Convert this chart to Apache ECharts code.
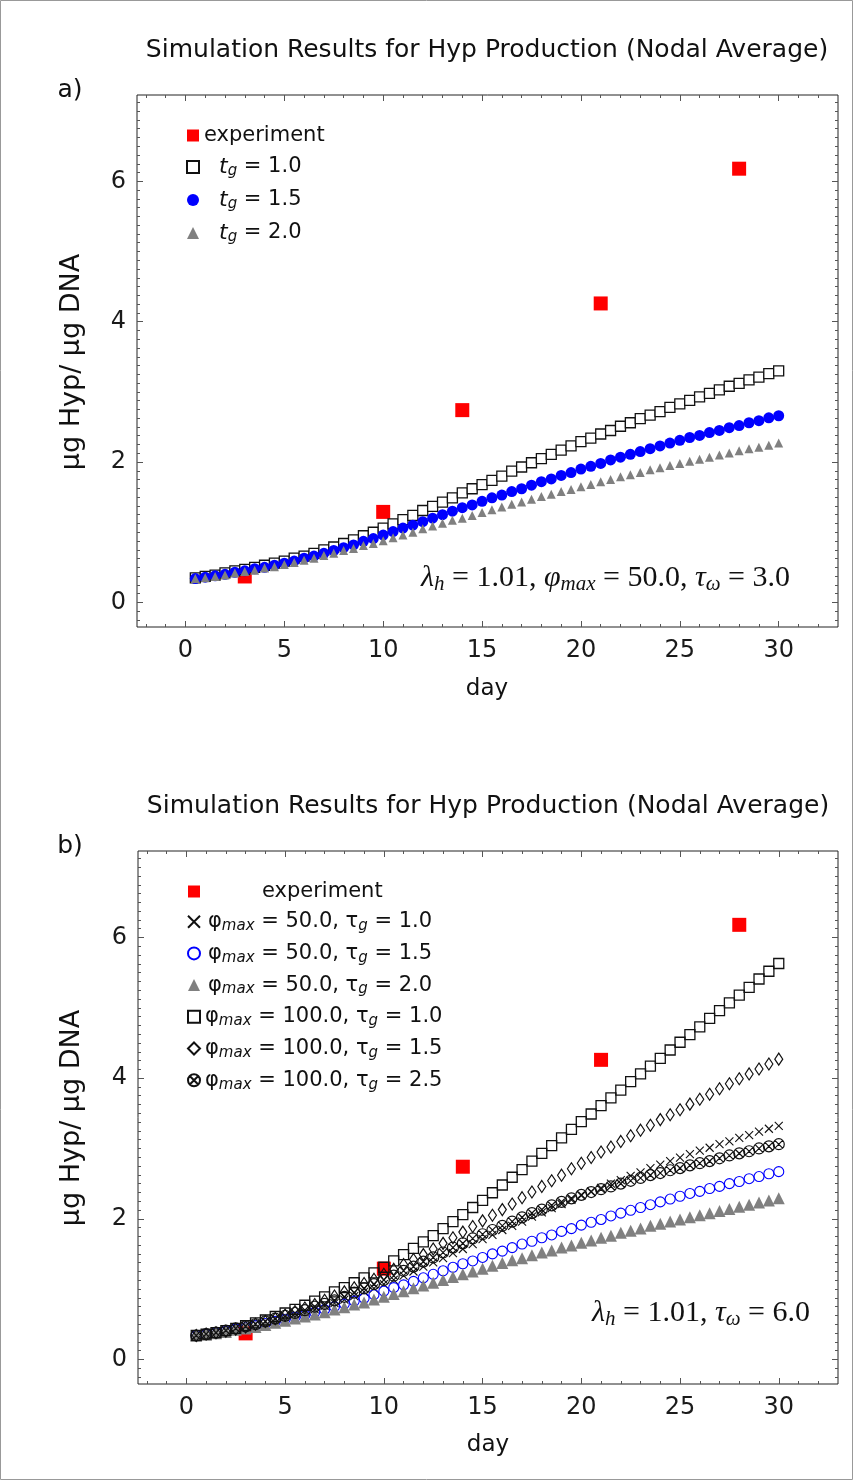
<!DOCTYPE html>
<html>
<head>
<meta charset="utf-8">
<script src="https://cdn.jsdelivr.net/npm/echarts@6/dist/echarts.min.js"></script>
<style>
  * { margin: 0; padding: 0; }
  body { background: #fff; }
  #chart { width: 854px; height: 1481px; }
</style>
</head>
<body>
<div id="chart"></div>
<script>
// ---- data ----
var days = [0.5, 1, 1.5, 2, 2.5, 3, 3.5, 4, 4.5, 5,
            5.5, 6, 6.5, 7, 7.5, 8, 8.5, 9, 9.5, 10,
            10.5, 11, 11.5, 12, 12.5, 13, 13.5, 14, 14.5, 15,
            15.5, 16, 16.5, 17, 17.5, 18, 18.5, 19, 19.5, 20,
            20.5, 21, 21.5, 22, 22.5, 23, 23.5, 24, 24.5, 25,
            25.5, 26, 26.5, 27, 27.5, 28, 28.5, 29, 29.5, 30];

var expDays = [3, 10, 14, 21, 28];
var expValues = [0.37, 1.29, 2.74, 4.26, 6.18];

// a) phi_max = 50, tau_w = 3.0
var tg10 = [0.35, 0.37, 0.39, 0.42, 0.45, 0.47, 0.50, 0.53, 0.56, 0.59,
            0.63, 0.66, 0.70, 0.75, 0.79, 0.84, 0.89, 0.95, 1.00, 1.06,
            1.12, 1.18, 1.24, 1.31, 1.37, 1.43, 1.49, 1.56, 1.62, 1.68,
            1.74, 1.80, 1.87, 1.93, 1.99, 2.05, 2.11, 2.17, 2.23, 2.29,
            2.34, 2.40, 2.45, 2.51, 2.56, 2.62, 2.67, 2.72, 2.78, 2.83,
            2.88, 2.93, 2.98, 3.03, 3.08, 3.12, 3.17, 3.21, 3.26, 3.30];
var tg15 = [0.34, 0.36, 0.38, 0.40, 0.43, 0.45, 0.48, 0.50, 0.53, 0.56,
            0.59, 0.63, 0.66, 0.70, 0.74, 0.78, 0.82, 0.87, 0.91, 0.96,
            1.01, 1.06, 1.10, 1.15, 1.20, 1.25, 1.30, 1.35, 1.39, 1.44,
            1.49, 1.53, 1.58, 1.62, 1.67, 1.72, 1.76, 1.81, 1.85, 1.90,
            1.94, 1.98, 2.03, 2.07, 2.11, 2.15, 2.19, 2.23, 2.27, 2.31,
            2.35, 2.38, 2.42, 2.45, 2.49, 2.52, 2.56, 2.59, 2.63, 2.66];
var tg20 = [0.34, 0.35, 0.37, 0.39, 0.42, 0.44, 0.46, 0.49, 0.51, 0.54,
            0.57, 0.60, 0.63, 0.67, 0.70, 0.74, 0.77, 0.81, 0.84, 0.88,
            0.92, 0.96, 1.00, 1.05, 1.09, 1.13, 1.17, 1.20, 1.24, 1.28,
            1.32, 1.36, 1.40, 1.43, 1.47, 1.51, 1.54, 1.58, 1.61, 1.65,
            1.68, 1.72, 1.75, 1.79, 1.82, 1.85, 1.89, 1.92, 1.95, 1.98,
            2.01, 2.04, 2.07, 2.10, 2.13, 2.16, 2.19, 2.21, 2.24, 2.27];

// b) tau_w = 6.0
var p50t10 = [0.35, 0.37, 0.39, 0.42, 0.45, 0.48, 0.51, 0.54, 0.57, 0.60,
              0.64, 0.67, 0.71, 0.76, 0.80, 0.85, 0.90, 0.96, 1.01, 1.07,
              1.13, 1.19, 1.25, 1.32, 1.38, 1.44, 1.51, 1.57, 1.64, 1.71,
              1.77, 1.84, 1.90, 1.96, 2.03, 2.09, 2.15, 2.21, 2.27, 2.33,
              2.39, 2.44, 2.50, 2.55, 2.61, 2.66, 2.72, 2.77, 2.82, 2.87,
              2.92, 2.97, 3.01, 3.06, 3.10, 3.15, 3.19, 3.24, 3.28, 3.32];
var p50t15 = [0.34, 0.36, 0.38, 0.40, 0.43, 0.45, 0.48, 0.51, 0.54, 0.57,
              0.60, 0.63, 0.67, 0.71, 0.75, 0.79, 0.83, 0.87, 0.92, 0.97,
              1.02, 1.06, 1.11, 1.16, 1.21, 1.26, 1.31, 1.36, 1.40, 1.45,
              1.50, 1.54, 1.59, 1.64, 1.68, 1.73, 1.77, 1.82, 1.86, 1.91,
              1.95, 1.99, 2.04, 2.08, 2.12, 2.16, 2.20, 2.24, 2.28, 2.32,
              2.36, 2.39, 2.43, 2.46, 2.50, 2.53, 2.57, 2.60, 2.64, 2.67];
var p50t20 = [0.34, 0.35, 0.37, 0.39, 0.42, 0.44, 0.46, 0.49, 0.52, 0.55,
              0.58, 0.61, 0.64, 0.67, 0.71, 0.74, 0.78, 0.81, 0.85, 0.89,
              0.93, 0.97, 1.01, 1.05, 1.09, 1.13, 1.17, 1.21, 1.25, 1.29,
              1.33, 1.37, 1.41, 1.44, 1.48, 1.52, 1.55, 1.59, 1.62, 1.66,
              1.69, 1.73, 1.76, 1.80, 1.83, 1.86, 1.90, 1.93, 1.96, 1.99,
              2.02, 2.05, 2.08, 2.11, 2.14, 2.17, 2.20, 2.23, 2.26, 2.29];
var p100t10 = [0.34, 0.36, 0.38, 0.41, 0.44, 0.48, 0.52, 0.56, 0.61, 0.66,
               0.71, 0.77, 0.83, 0.89, 0.96, 1.02, 1.09, 1.16, 1.23, 1.31,
               1.40, 1.49, 1.58, 1.67, 1.76, 1.86, 1.96, 2.06, 2.16, 2.26,
               2.37, 2.48, 2.59, 2.70, 2.82, 2.93, 3.04, 3.15, 3.27, 3.38,
               3.49, 3.61, 3.72, 3.83, 3.95, 4.06, 4.17, 4.28, 4.40, 4.51,
               4.62, 4.73, 4.85, 4.96, 5.07, 5.18, 5.29, 5.41, 5.52, 5.63];
var p100t15 = [0.34, 0.36, 0.38, 0.40, 0.43, 0.46, 0.50, 0.54, 0.58, 0.63,
               0.68, 0.73, 0.78, 0.84, 0.90, 0.96, 1.02, 1.08, 1.14, 1.21,
               1.28, 1.35, 1.42, 1.49, 1.57, 1.65, 1.73, 1.81, 1.89, 1.97,
               2.05, 2.13, 2.21, 2.30, 2.38, 2.46, 2.54, 2.62, 2.71, 2.79,
               2.87, 2.95, 3.02, 3.10, 3.18, 3.26, 3.33, 3.41, 3.48, 3.55,
               3.63, 3.70, 3.77, 3.85, 3.92, 3.99, 4.06, 4.13, 4.20, 4.27];
var p100t25 = [0.34, 0.36, 0.38, 0.41, 0.44, 0.47, 0.50, 0.54, 0.58, 0.62,
               0.66, 0.70, 0.75, 0.79, 0.84, 0.89, 0.95, 1.01, 1.07, 1.13,
               1.19, 1.26, 1.32, 1.39, 1.45, 1.52, 1.59, 1.65, 1.72, 1.78,
               1.84, 1.90, 1.96, 2.02, 2.08, 2.13, 2.19, 2.24, 2.29, 2.34,
               2.38, 2.42, 2.46, 2.50, 2.54, 2.58, 2.62, 2.65, 2.69, 2.72,
               2.76, 2.79, 2.82, 2.86, 2.90, 2.93, 2.96, 3.00, 3.03, 3.06];

// ticks
var xMajor = [0, 5, 10, 15, 20, 25, 30];
var xMinor = [-2, -1, 1, 2, 3, 4, 6, 7, 8, 9, 11, 12, 13, 14, 16, 17, 18, 19,
              21, 22, 23, 24, 26, 27, 28, 29, 31, 32];
var yMajor = [0, 2, 4, 6];
var yMinor = [-0.25, -0.125,
              0.125, 0.25, 0.375, 0.5, 0.625, 0.75, 0.875, 1, 1.125, 1.25, 1.375, 1.5, 1.625, 1.75, 1.875,
              2.125, 2.25, 2.375, 2.5, 2.625, 2.75, 2.875, 3, 3.125, 3.25, 3.375, 3.5, 3.625, 3.75, 3.875,
              4.125, 4.25, 4.375, 4.5, 4.625, 4.75, 4.875, 5, 5.125, 5.25, 5.375, 5.5, 5.625, 5.75, 5.875,
              6.125, 6.25, 6.375, 6.5, 6.625, 6.75, 6.875, 7, 7.125];

var SANS = 'DejaVu Sans';
var SERIF = 'Liberation Serif';
var xRange = [-2.45, 33];
var yRange = [-0.35, 7.23];

function pairs(xs, ys) {
    return xs.map(function (x, i) { return [x, ys[i]]; });
}

// 4 axes per dimension: labelled major + minor on one side, major + minor mirrored
function tickAxes(dim, grid, range) {
    var sides = dim === 'x' ? ['bottom', 'top'] : ['left', 'right'];
    var major = dim === 'x' ? xMajor : yMajor;
    var minor = dim === 'x' ? xMinor : yMinor;
    var out = [];
    sides.forEach(function (side, s) {
        [major, minor].forEach(function (vals, m) {
            out.push({
                type: 'value',
                gridIndex: grid,
                position: side,
                min: range[0],
                max: range[1],
                axisLine: { show: false, onZero: false },
                splitLine: { show: false },
                axisTick: { show: true, inside: true, length: m === 0 ? 6 : 3, customValues: vals,
                            lineStyle: { color: '#555', width: 1 } },
                axisLabel: (s === 0 && m === 0)
                    ? { show: true, customValues: vals, margin: dim === 'x' ? 12 : 11, fontSize: 24,
                        color: '#1a1a1a', fontFamily: SANS }
                    : { show: false }
            });
        });
    });
    return out;
}

function scatter(name, xs, ys, grid, symbol, size, style) {
    style.opacity = 1;
    return {
        type: 'scatter',
        name: name,
        xAxisIndex: grid * 4,
        yAxisIndex: grid * 4,
        data: pairs(xs, ys),
        symbol: symbol,
        symbolSize: size,
        itemStyle: style,
        emphasis: { disabled: true },
        silent: true
    };
}

var crossPath = 'path://M0,0L10,10M10,0L0,10';
var otimesPath = 'path://M0,10A10,10,0,1,1,20,10A10,10,0,1,1,0,10ZM2.93,2.93L17.07,17.07M17.07,2.93L2.93,17.07';

var legendText = {
    exp_a: '{ex1|experiment}',
    tg10: '{t18|t}{sub|g}{sf| = 1.0}',
    tg15: '{t18|t}{sub|g}{sf| = 1.5}',
    tg20: '{t18|t}{sub|g}{sf| = 2.0}',
    exp_b: '{ex2|experiment}',
    p50t10: '{ph9|φ}{sub|max}{sf| = 50.0, τ}{sub|g}{sf| = 1.0}',
    p50t15: '{ph9|φ}{sub|max}{sf| = 50.0, τ}{sub|g}{sf| = 1.5}',
    p50t20: '{ph9|φ}{sub|max}{sf| = 50.0, τ}{sub|g}{sf| = 2.0}',
    p100t10: '{ph4|φ}{sub|max}{sf| = 100.0, τ}{sub|g}{sf| = 1.0}',
    p100t15: '{ph4|φ}{sub|max}{sf| = 100.0, τ}{sub|g}{sf| = 1.5}',
    p100t25: '{ph4|φ}{sub|max}{sf| = 100.0, τ}{sub|g}{sf| = 2.5}'
};

var legendRich = {
    ex1: { fontFamily: SANS, fontSize: 21, color: '#111', padding: [0, 0, 0, 0], lineHeight: 24 },
    ex2: { fontFamily: SANS, fontSize: 21, color: '#111', padding: [0, 0, 0, 57], lineHeight: 24 },
    sf: { fontFamily: SANS, fontSize: 21, color: '#111', lineHeight: 24 },
    t18: { fontFamily: SANS, fontSize: 22, fontStyle: 'italic', color: '#111', padding: [0, 0, 0, 15], lineHeight: 24 },
    ph9: { fontFamily: SANS, fontSize: 21, color: '#111', padding: [0, 0, 0, 3], lineHeight: 24 },
    ph4: { fontFamily: SANS, fontSize: 21, color: '#111', padding: [0, 0, 0, 0], lineHeight: 24 },
    sub: { fontFamily: SANS, fontSize: 15, fontStyle: 'italic', color: '#111', padding: [9, 0, 0, 0], lineHeight: 24 }
};

var mathRich = {
    it: { fontFamily: SERIF, fontStyle: 'italic', fontSize: 30, fill: '#111' },
    rm: { fontFamily: SERIF, fontSize: 30, fill: '#111' },
    sub: { fontFamily: SERIF, fontStyle: 'italic', fontSize: 21, fill: '#111', padding: [13, 0, 0, 0] }
};

function label(text, x, y, size, extra) {
    var el = {
        type: 'text', x: x, y: y, silent: true,
        style: { text: text, fontFamily: SANS, fontSize: size, fill: '#111', align: 'center', verticalAlign: 'middle' }
    };
    return Object.assign(el, extra || {});
}

var option = {
    animation: false,
    backgroundColor: '#fff',
    grid: [
        { left: 137, top: 95, width: 701, height: 532, show: true, borderColor: '#222', borderWidth: 1,
          backgroundColor: 'transparent', outerBoundsMode: 'none' },
        { left: 138, top: 851, width: 700, height: 533, show: true, borderColor: '#222', borderWidth: 1,
          backgroundColor: 'transparent', outerBoundsMode: 'none' }
    ],
    xAxis: tickAxes('x', 0, xRange).concat(tickAxes('x', 1, xRange)),
    yAxis: tickAxes('y', 0, yRange).concat(tickAxes('y', 1, yRange)),
    legend: [
        { data: ['exp_a', 'tg10', 'tg15', 'tg20'], orient: 'vertical', left: 181, top: 120,
          itemWidth: 12, itemHeight: 12, itemGap: 9, selectedMode: false,
          formatter: function (n) { return legendText[n]; }, textStyle: { rich: legendRich } },
        { data: ['exp_b', 'p50t10', 'p50t15', 'p50t20', 'p100t10', 'p100t15', 'p100t25'],
          orient: 'vertical', left: 182, top: 876, itemWidth: 12, itemHeight: 12, itemGap: 7.7,
          selectedMode: false,
          formatter: function (n) { return legendText[n]; }, textStyle: { rich: legendRich } }
    ],
    series: [
        scatter('exp_a', expDays, expValues, 0, 'rect', 14, { color: '#ff0000' }),
        scatter('tg10', days, tg10, 0, 'rect', 10, { color: '#fff', borderColor: '#111', borderWidth: 1.3 }),
        scatter('tg15', days, tg15, 0, 'circle', 11, { color: '#0000ff' }),
        scatter('tg20', days, tg20, 0, 'triangle', 9, { color: '#808080' }),

        scatter('exp_b', expDays, expValues, 1, 'rect', 14, { color: '#ff0000' }),
        scatter('p50t10', days, p50t10, 1, crossPath, 8, { color: 'transparent', borderColor: '#111', borderWidth: 1.1 }),
        scatter('p50t15', days, p50t15, 1, 'circle', 10, { color: 'transparent', borderColor: '#0000ff', borderWidth: 1.1 }),
        scatter('p50t20', days, p50t20, 1, 'triangle', 12, { color: '#808080' }),
        scatter('p100t10', days, p100t10, 1, 'rect', 10, { color: 'transparent', borderColor: '#111', borderWidth: 1.3 }),
        scatter('p100t15', days, p100t15, 1, 'diamond', [8, 12], { color: 'transparent', borderColor: '#111', borderWidth: 1.2 }),
        scatter('p100t25', days, p100t25, 1, otimesPath, 11, { color: 'transparent', borderColor: '#111', borderWidth: 1.2 })
    ],
    graphic: [
        { type: 'rect', silent: true, shape: { x: 0.5, y: 0.5, width: 852, height: 1479 },
          style: { fill: 'none', stroke: '#999', lineWidth: 1 } },
        label('Simulation Results for Hyp Production (Nodal Average)', 487, 50, 25),
        label('Simulation Results for Hyp Production (Nodal Average)', 488, 806, 25),
        label('a)', 70, 90, 25),
        label('b)', 70, 846, 25),
        label('day', 487, 689, 23),
        label('day', 488, 1445, 23),
        label('µg Hyp/ µg DNA', 72, 362, 27, { rotation: Math.PI / 2 }),
        label('µg Hyp/ µg DNA', 72, 1118, 27, { rotation: Math.PI / 2 }),
        { type: 'text', x: 790, y: 578, silent: true,
          style: { text: '{it|λ}{sub|h}{rm| = 1.01, }{it|φ}{sub|max}{rm| = 50.0, }{it|τ}{sub|ω}{rm| = 3.0}',
                   rich: mathRich, align: 'right', verticalAlign: 'middle' } },
        { type: 'text', x: 810, y: 1313, silent: true,
          style: { text: '{it|λ}{sub|h}{rm| = 1.01, }{it|τ}{sub|ω}{rm| = 6.0}',
                   rich: mathRich, align: 'right', verticalAlign: 'middle' } }
    ]
};

var myChart = echarts.init(document.getElementById('chart'));
myChart.setOption(option);
</script>
</body>
</html>
